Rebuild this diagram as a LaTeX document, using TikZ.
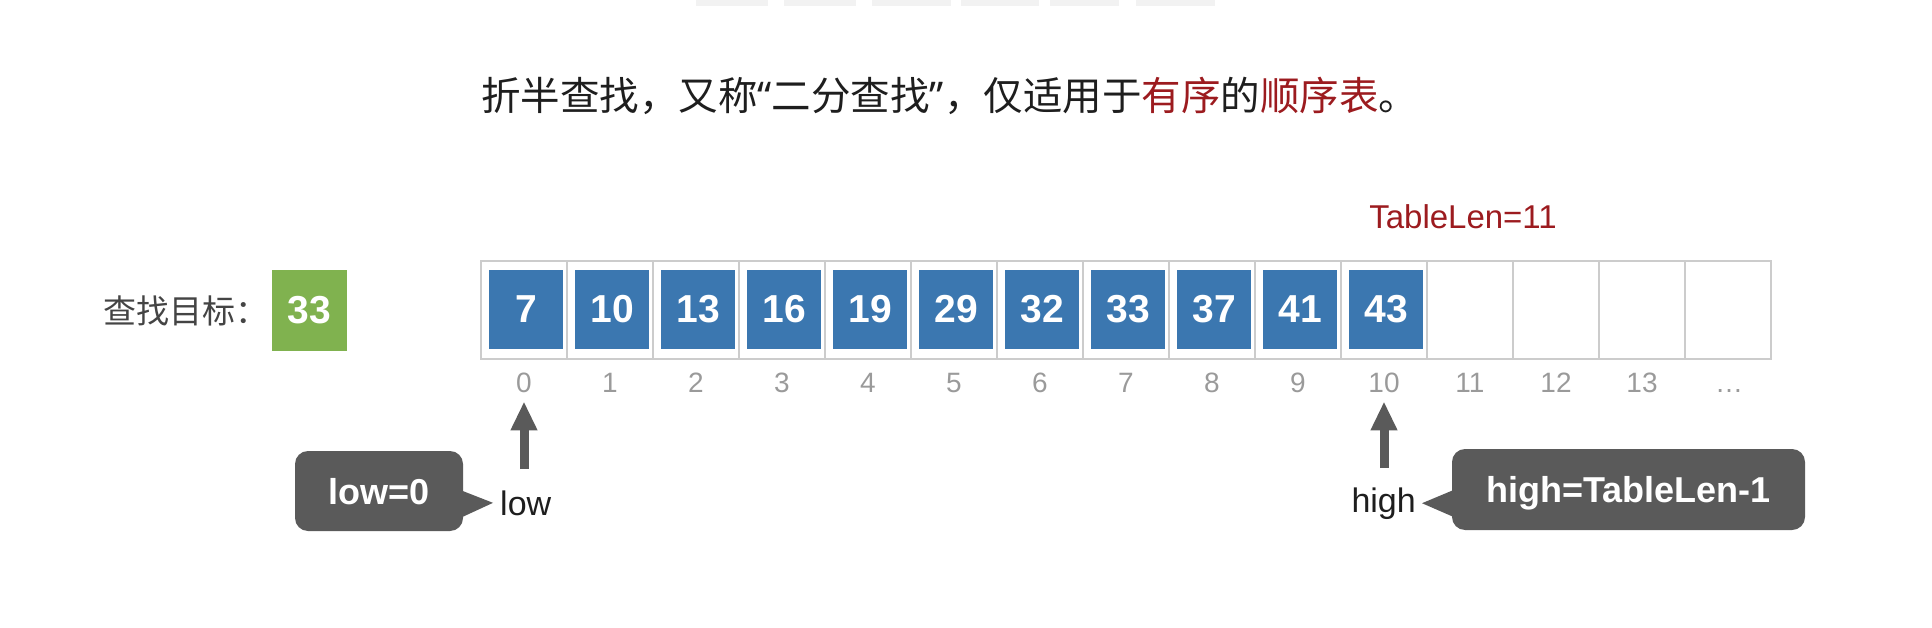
\documentclass[tikz,border=0pt]{standalone}
\usepackage{fontspec}
\setmainfont{Liberation Sans}
\newfontfamily\cjk{Noto Sans CJK SC}
\newfontfamily\latq{Noto Sans}
\usetikzlibrary{arrows.meta}
\definecolor{bluebox}{HTML}{3B77B0}
\definecolor{greenbox}{HTML}{80B24F}
\definecolor{darkred}{HTML}{9C1B1F}
\definecolor{callgray}{HTML}{5A5A5A}
\definecolor{cellline}{HTML}{CCCCCC}
\definecolor{idxgray}{HTML}{9A9A9A}
\definecolor{txt}{HTML}{1E1E1E}
\definecolor{lbl}{HTML}{444444}
\definecolor{faint}{HTML}{F2F2F2}
\newcommand\fsz[1]{\fontsize{#1}{#1}\selectfont}
\begin{document}
\begin{tikzpicture}[x=1pt,y=-1pt,
  cellbox/.style={draw=cellline, line width=1.5pt, minimum width=86pt, minimum height=98pt, inner sep=0pt},
  valbox/.style={fill=bluebox, minimum width=74pt, minimum height=79pt, inner sep=0pt, text=white, font=\fsz{39}\bfseries},
  idx/.style={text=idxgray, font=\fsz{28}, inner sep=0pt, anchor=base},
  ptr/.style={draw=callgray, line width=9pt, -{Triangle[width=25pt,length=29pt]}},
  callbox/.style={fill=callgray, rounded corners=13pt, inner sep=0pt, text=white, text depth=0pt, font=\fsz{36}\bfseries},
  plainlbl/.style={inner sep=0pt, font=\fsz{34}, text=txt}
  ]
\useasboundingbox (0,0) rectangle (1932,628);
% faint remnants at the top edge
\foreach \a/\b in {696/768,784/856,872/951,961/1039,1050/1119,1136/1215}
  \fill[faint] (\a,0) rectangle (\b,6);

% title
\node[anchor=base west, inner sep=0pt, font=\cjk\fsz{39.5}, text=txt] (title) at (481,111)
  {折半查找，又称{\latq “}二分查找{\latq ”}，仅适用于{\color{darkred}有序}的{\color{darkred}顺序表}。};

% target
\node[anchor=base west, inner sep=0pt, font=\cjk\fsz{33}, text=lbl] (tgtlbl) at (103,323) {查找目标：};
\node[fill=greenbox, minimum width=75pt, minimum height=81pt, inner sep=0pt, text=white, font=\fsz{39}\bfseries] (tgt) at (309.5,310.5) {33};

% table
\foreach \i in {0,...,14}
  \node[cellbox] (c\i) at ({524+86*\i},310) {};
\foreach \v [count=\i from 0] in {7,10,13,16,19,29,32,33,37,41,43}
  \node[valbox] (v\i) at ({526+86*\i},309.5) {\v};
\foreach \i in {0,...,13}
  \node[idx] (i\i) at ({524+86*\i},392) {\i};
\node[idx] (i14) at (1729,392) {…};

\node[anchor=base, inner sep=0pt, text=darkred, font=\fsz{33}] (tl) at (1463,229) {TableLen=11};

% low pointer
\coordinate (lowtail) at (524,469);
\draw[ptr] (lowtail) -- ([yshift=-9pt]i0.south);
\node[callbox, minimum width=168pt, minimum height=80pt] (lowbox) at (379,491) {low=0};
\node[plainlbl, anchor=base west] (lowlbl) at (500,515) {low};
\fill[callgray] ([xshift=-3pt,yshift=1pt]lowbox.east) -- ([xshift=-7pt]lowlbl.west) -- ([xshift=-3pt,yshift=-27pt]lowbox.east) -- cycle;

% high pointer
\coordinate (hightail) at (1384,468);
\draw[ptr] (hightail) -- ([yshift=-9pt]i10.south);
\node[callbox, minimum width=353pt, minimum height=81pt] (highbox) at (1628.5,489.5) {high=TableLen-1};
\node[plainlbl, anchor=base east] (highlbl) at (1416,512) {high};
\fill[callgray] ([xshift=3pt,yshift=0pt]highbox.west) -- ([xshift=6pt]highlbl.east) -- ([xshift=3pt,yshift=-28pt]highbox.west) -- cycle;
\end{tikzpicture}
\end{document}
